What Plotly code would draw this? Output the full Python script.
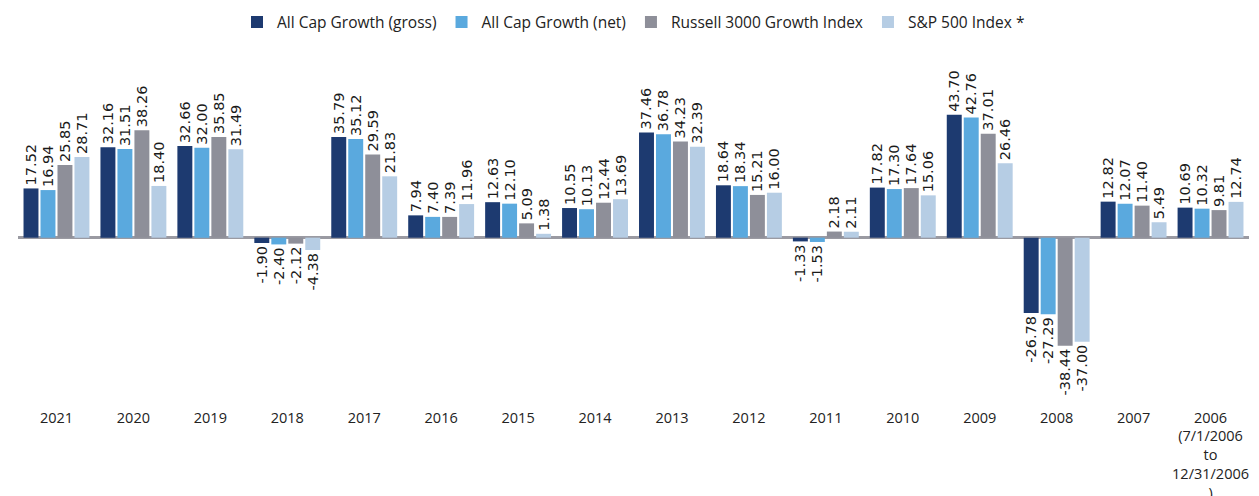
import plotly.graph_objects as go

categories = ["2021", "2020", "2019", "2018", "2017", "2016", "2015", "2014",
              "2013", "2012", "2011", "2010", "2009", "2008", "2007", "2006"]
tick_labels = ["2021", "2020", "2019", "2018", "2017", "2016", "2015", "2014",
               "2013", "2012", "2011", "2010", "2009", "2008", "2007",
               "2006<br>(7/1/2006<br>to<br>12/31/2006<br>)"]

gross = [17.52, 32.16, 32.66, -1.90, 35.79, 7.94, 12.63, 10.55, 37.46, 18.64,
         -1.33, 17.82, 43.70, -26.78, 12.82, 10.69]
net = [16.94, 31.51, 32.00, -2.40, 35.12, 7.40, 12.10, 10.13, 36.78, 18.34,
       -1.53, 17.30, 42.76, -27.29, 12.07, 10.32]
russell = [25.85, 38.26, 35.85, -2.12, 29.59, 7.39, 5.09, 12.44, 34.23, 15.21,
           2.18, 17.64, 37.01, -38.44, 11.40, 9.81]
sp500 = [28.71, 18.40, 31.49, -4.38, 21.83, 11.96, 1.38, 13.69, 32.39, 16.00,
         2.11, 15.06, 26.46, -37.00, 5.49, 12.74]

series = [
    ("All Cap Growth (gross)", gross, "#1d3a70"),
    ("All Cap Growth (net)", net, "#5aa9de"),
    ("Russell 3000 Growth Index", russell, "#8e8f99"),
    ("S&P 500 Index *", sp500, "#b6cde4"),
]

fig = go.Figure()
for name, vals, color in series:
    fig.add_trace(go.Bar(
        x=categories, y=vals, name=name,
        marker=dict(color=color, line=dict(width=0)),
        texttemplate="%{y:.2f}",
        textposition="outside",
        textangle=-90,
        constraintext="none",
        cliponaxis=False,
        textfont=dict(family="DejaVu Sans", size=14.5, color="#1a1a1a"),
    ))

fig.update_layout(
    width=1251, height=488,
    barmode="group", bargap=0.117, bargroupgap=0.12,
    plot_bgcolor="white", paper_bgcolor="white",
    margin=dict(l=9.5, r=9.5, t=47, b=89, autoexpand=False),
    uniformtext=dict(mode=False),
    legend=dict(
        orientation="h", xref="container", yref="container",
        x=0.5, xanchor="center", y=0.9703, yanchor="middle",
        font=dict(family="Open Sans", size=15.5, color="#222222"),
        traceorder="normal",
    ),
    xaxis=dict(
        type="category", tickmode="array", tickvals=categories, ticktext=tick_labels,
        tickfont=dict(family="Open Sans", size=14.5, color="#222222"),
        showgrid=False, showline=False, ticks="", range=[-0.5, 15.5],
        automargin=False,
    ),
    yaxis=dict(
        range=[-60.25, 65.0], showgrid=False, showticklabels=False, ticks="",
        zeroline=True, zerolinecolor="#9a9aa2", zerolinewidth=2.5,
        automargin=False,
    ),
    showlegend=True,
)

fig.write_html("out.html")
